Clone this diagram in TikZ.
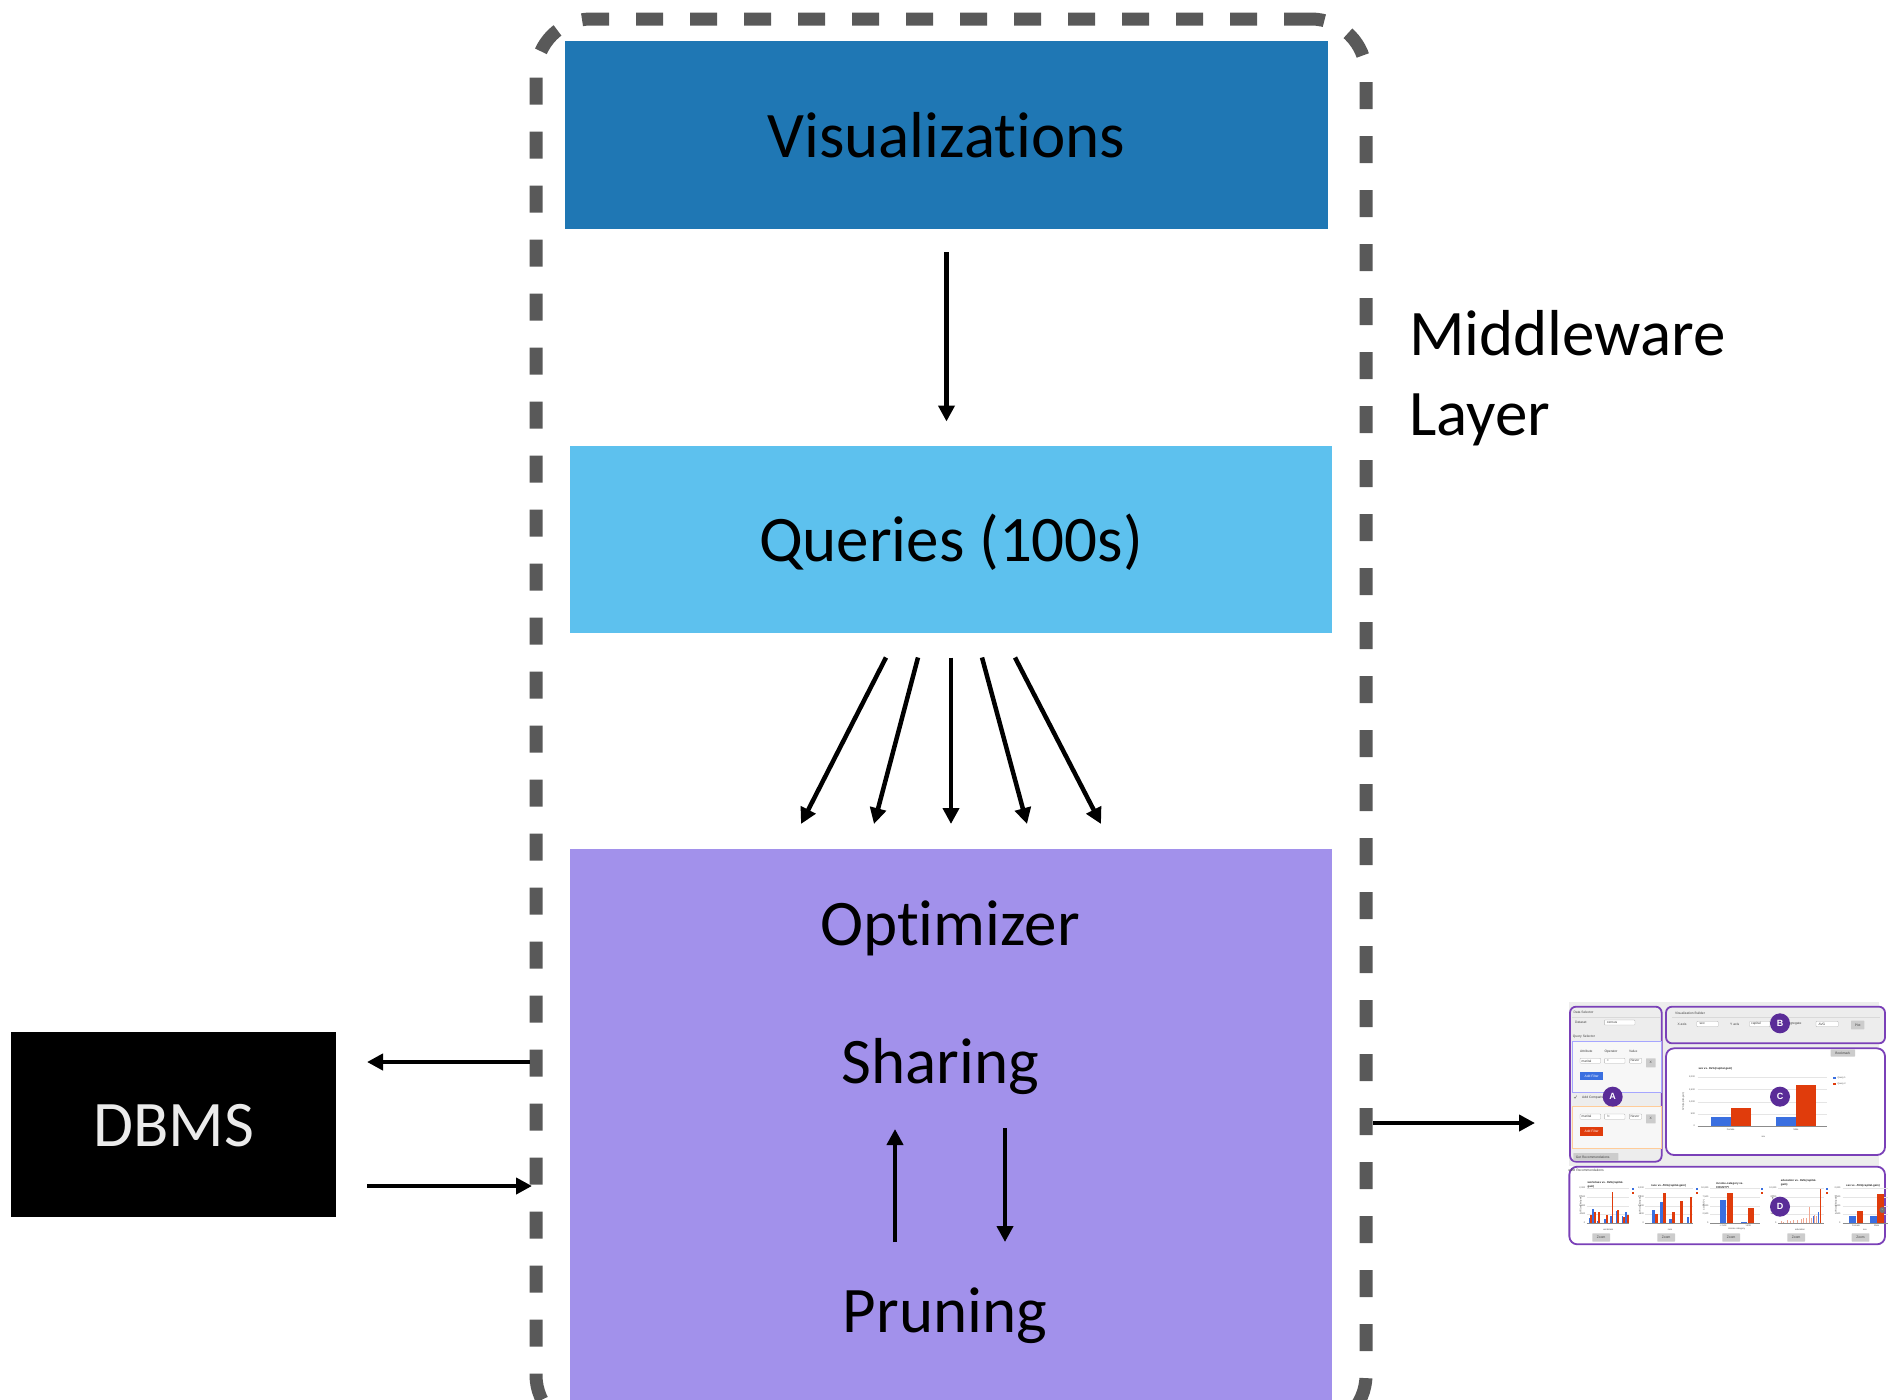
\documentclass[tikz,border=0pt]{standalone}
\usepackage{fontspec}
\setmainfont{Carlito}[Ligatures={NoCommon,NoContextual}]
\newfontfamily\shotfont{Liberation Sans}
\usetikzlibrary{arrows.meta,calc}
\definecolor{visblue}{HTML}{1F77B4}
\definecolor{qblue}{HTML}{5DC1EE}
\definecolor{optpurple}{HTML}{A291EB}
\definecolor{dashgray}{HTML}{595959}
\definecolor{pborder}{HTML}{7A40B8}
\definecolor{pcirc}{HTML}{5A2C98}
\definecolor{barblue}{HTML}{3A6FE0}
\definecolor{barred}{HTML}{E03C0C}
\definecolor{shotbg}{HTML}{EDEDED}
\definecolor{dbmstext}{HTML}{EBEBEB}
\newcommand\shotaxis[8]{%
  \foreach \yy in {580,606,632,657}{\draw[black!10, line width=0.2pt] (#2,\yy) -- (#3,\yy);}
  \draw[black!45, line width=0.3pt] (#2,683) -- (#3,683);
  \node[sts, anchor=east] at (#1,580) {#4};
  \node[sts, anchor=east] at (#1,606) {#5};
  \node[sts, anchor=east] at (#1,632) {#6};
  \node[sts, anchor=east] at (#1,657) {#7};
  \node[sts, anchor=east] at (#1,683) {#8};}
\newcommand\shotbar[4]{\fill[#4] (#1,#2) rectangle (#1+#3,683);}
\begin{document}
\begin{tikzpicture}[x=1pt,y=-1pt,
  bigtext/.style={font=\fontsize{65}{70}\selectfont},
  layerbox/.style={rectangle, inner sep=0pt, outer sep=0pt, text height=44pt, text depth=0pt, bigtext},
  arr/.style={-{Triangle[length=16pt,width=16pt]}, line width=4.5pt},
  st/.style={font=\shotfont\fontsize{3.3}{3.8}\selectfont, inner sep=0pt, anchor=west, text=black!75},
  sts/.style={font=\shotfont\fontsize{2.3}{2.7}\selectfont, inner sep=0pt, text=black!70},
  stb/.style={font=\shotfont\bfseries\fontsize{2.8}{3.2}\selectfont, inner sep=0pt, anchor=west, text=black!85},
  dd/.style={draw=black!30, fill=white, rounded corners=0.8pt, line width=0.3pt},
  btn/.style={fill=black!20, rounded corners=0.5pt},
  panel/.style={draw=pborder, line width=1.8pt, rounded corners=6pt},
  letter/.style={font=\shotfont\bfseries\fontsize{9}{10}\selectfont, text=white, inner sep=0pt},
]
\useasboundingbox (0,0) rectangle (1888,1400);
\clip (0,0) rectangle (1888,1400);

% layer boxes
\node[layerbox, fill=visblue, minimum width=763pt, minimum height=188pt] (vis) at (946.5,135) {Visualizations};
\node[layerbox, fill=qblue, minimum width=762pt, minimum height=187pt] (qry) at (951,539) {Queries (100s)};
\node[rectangle, inner sep=0pt, outer sep=0pt, fill=optpurple, minimum width=762pt, minimum height=600pt, anchor=north] (opt) at (951,849) {};
\node[bigtext, anchor=base, inner sep=0pt] (optt) at (950,945) {Optimizer};
\node[bigtext, anchor=base, inner sep=0pt] (shr) at (940.5,1083) {Sharing};
\node[bigtext, anchor=base, inner sep=0pt] (prn) at (945,1332) {Pruning};
\node[layerbox, fill=black, text=dbmstext, minimum width=325pt, minimum height=185pt] (dbms) at (173.5,1124.5) {DBMS};

% middleware label
\node[bigtext, anchor=base west, inner sep=0pt] (mid1) at (1409,355) {Middleware};
\node[bigtext, anchor=base west, inner sep=0pt] (mid2) at (1409,435) {Layer};

% middleware dashed frame
\node[draw=dashgray, line width=13pt, dash pattern=on 27pt off 27pt, rounded corners=55pt,
      minimum width=830pt, minimum height=1411pt, inner sep=0pt, outer sep=0pt] (mw) at (951,724.5) {};

% screenshot anchor node
\node[inner sep=0pt, outer sep=0pt, minimum width=320pt, minimum height=243pt] (shot) at (1728,1124.5) {};

% arrows
\draw[arr, shorten <=23pt, shorten >=24pt] (vis.south) -- (vis.south |- qry.north);
\draw[arr] ([xshift=-65pt,yshift=-25pt]qry.south) -- ([xshift=-150pt,yshift=25pt]opt.north);
\draw[arr] ([xshift=-33pt,yshift=-25pt]qry.south) -- ([xshift=-77pt,yshift=25pt]opt.north);
\draw[arr] ([xshift=0pt,yshift=-25pt]qry.south) -- ([xshift=0pt,yshift=25pt]opt.north);
\draw[arr] ([xshift=31pt,yshift=-25pt]qry.south) -- ([xshift=76pt,yshift=25pt]opt.north);
\draw[arr] ([xshift=64pt,yshift=-25pt]qry.south) -- ([xshift=150pt,yshift=25pt]opt.north);
\draw[arr] ([xshift=-56pt,yshift=-393pt]opt.north) -- ([xshift=-56pt,yshift=-280pt]opt.north);
\draw[arr] ([xshift=54pt,yshift=-279pt]opt.north) -- ([xshift=54pt,yshift=-393pt]opt.north);
\draw[arr] ([xshift=-6pt,yshift=-337.5pt]mw.west) -- ([xshift=31pt,yshift=62.5pt]dbms.east);
\draw[arr] ([xshift=31pt,yshift=-61.5pt]dbms.east) -- ([xshift=-4pt,yshift=-461.5pt]mw.west);
\draw[arr] ([xshift=7pt,yshift=-398.5pt]mw.east) -- ([xshift=-33pt,yshift=1.5pt]shot.west);

% screenshot thumbnail
\begin{scope}[xshift=1560pt,yshift=-995pt,x=0.33333pt,y=-0.33333pt]
\clip (25,15) rectangle (984,760);
\fill[shotbg] (28,22) rectangle (958,512);
% Panel A
\draw[panel, fill=shotbg] (30,35) rectangle (305,500);
\node[st] at (40,53) {Data Selector};
\draw[black!15, line width=0.3pt] (36,66) -- (300,66);
\node[st] at (45,82) {Dataset};
\draw[dd] (133,75) rectangle (225,90); \node[st] at (140,82.5) {census};
\node[st] at (38,125) {Query Selector};
\draw[draw=blue!35, line width=0.5pt, fill=black!3] (38,140) rectangle (303,292);
\node[st] at (60,170) {Attribute}; \node[st] at (133,170) {Operator}; \node[st] at (207,170) {Value};
\draw[dd] (60,190) rectangle (122,205); \node[st] at (64,197.5) {marital};
\draw[dd] (133,190) rectangle (195,205); \node[st] at (140,197.5) {=};
\draw[dd] (208,190) rectangle (245,205); \node[st] at (211,197.5) {Never};
\fill[btn] (258,190) rectangle (287,217); \node[st, anchor=center] at (272.5,203.5) {X};
\fill[barblue] (60,230) rectangle (130,255); \node[st, anchor=center, text=white] at (95,242.5) {Add Filter};
\draw[black!60, line width=0.4pt] (42,306) -- (45,310) -- (50,302);
\node[st] at (66,307) {Add Comparison};
\draw[draw=orange!40, line width=0.5pt, fill=black!3] (38,335) rectangle (303,460);
\draw[dd] (60,357) rectangle (122,373); \node[st] at (64,365) {marital};
\draw[dd] (133,357) rectangle (195,373); \node[st] at (140,365) {!=};
\draw[dd] (208,357) rectangle (245,373); \node[st] at (211,365) {Never};
\fill[btn] (258,358) rectangle (287,385); \node[st, anchor=center] at (272.5,371.5) {X};
\fill[barred] (60,397) rectangle (130,422); \node[st, anchor=center, text=white] at (95,409.5) {Add Filter};
\fill[btn] (40,474) rectangle (175,497); \node[st] at (47,485.5) {Get Recommendations};
\fill[pcirc] (158,305) circle[radius=30]; \node[letter] at (158,305) {A};
% Panel B
\draw[panel, fill=shotbg] (318,35) rectangle (975,145);
\node[st] at (345,55) {Visualization Builder};
\draw[black!15, line width=0.3pt] (335,67) -- (960,67);
\node[st] at (352,87) {X axis};
\draw[dd] (410,79) rectangle (475,95); \node[st] at (418,87) {sex};
\node[st] at (510,87) {Y axis};
\draw[dd] (568,79) rectangle (630,95); \node[st] at (573,87) {capital};
\node[st] at (678,87) {Aggregate};
\draw[dd] (768,79) rectangle (835,95); \node[st] at (775,87) {AVG};
\fill[btn] (873,77) rectangle (913,103); \node[st, anchor=center] at (893,90) {Plot};
\fill[pcirc] (660,85) circle[radius=30]; \node[letter] at (660,85) {B};
% Panel C
\draw[panel, fill=white, rounded corners=8pt] (318,160) rectangle (975,480);
\fill[btn] (812,163) rectangle (885,185); \node[st, anchor=center] at (848.5,174) {Bookmark};
\node[stb] at (415,222) {sex vs. AVG(capital-gain)};
\foreach \yy/\lab in {245/{2,000},283/{1,500},320/{1,000},357/{500},393/{0}}{
  \draw[black!10, line width=0.2pt] (413,\yy) -- (800,\yy);
  \node[sts, anchor=east] at (405,\yy) {\lab};}
\draw[black!45, line width=0.3pt] (413,393) -- (800,393);
\fill[barblue] (453,365) rectangle (512,393);
\fill[barred] (514,338) rectangle (573,393);
\fill[barblue] (648,367) rectangle (707,393);
\fill[barred] (709,270) rectangle (768,393);
\node[sts] at (512,405) {Female};
\node[sts] at (708,405) {Male};
\node[sts] at (610,425) {sex};
\node[sts, rotate=90] at (370,320) {AVG(capital-gain)};
\fill[barblue] (818,245) rectangle (827,253); \node[sts, anchor=west] at (832,249) {Query 1};
\fill[barred] (818,263) rectangle (827,271); \node[sts, anchor=west] at (832,267) {Query 2};
\fill[pcirc] (660,305) circle[radius=30]; \node[letter] at (660,305) {C};
% Panel D
\draw[panel, fill=white, rounded corners=8pt] (28,515) rectangle (975,748);
\node[st] at (14,527) {SeeDB Recommendations};
% chart 1
\node[stb] at (82,562) {workclass vs. AVG(capital-};
\node[stb] at (82,574) {gain)};
\shotaxis{76}{80}{207}{2,000}{1,500}{1,000}{500}{0}
\shotbar{86}{668}{5}{barblue}\shotbar{91}{660}{5}{barred}
\shotbar{97}{642}{5}{barblue}\shotbar{102}{650}{5}{barred}
\shotbar{110}{678}{5}{barblue}\shotbar{115}{652}{5}{barred}
\shotbar{133}{672}{5}{barblue}\shotbar{138}{660}{5}{barred}
\shotbar{150}{662}{5}{barblue}\shotbar{155}{592}{5}{barred}
\shotbar{167}{648}{5}{barblue}\shotbar{172}{645}{5}{barred}
\shotbar{185}{662}{5}{barblue}\shotbar{190}{665}{5}{barred}
\shotbar{196}{650}{5}{barblue}\shotbar{201}{660}{5}{barred}
\fill[barblue] (215,578) rectangle (221,584); \fill[barred] (215,592) rectangle (221,598);
\node[sts, rotate=90] at (62,630) {AVG(capital-gain)};
\node[sts] at (145,704) {workclass};
\fill[btn] (97,715) rectangle (150,740); \node[st, anchor=center] at (123.5,727.5) {Zoom};
% chart 2
\node[stb] at (273,572) {race vs. AVG(capital-gain)};
\shotaxis{252}{256}{400}{2,000}{1,500}{1,000}{500}{0}
\shotbar{276}{645}{8}{barblue}\shotbar{285}{657}{8}{barred}
\shotbar{300}{622}{8}{barblue}\shotbar{309}{595}{8}{barred}
\shotbar{328}{673}{8}{barblue}\shotbar{337}{650}{8}{barred}
\shotbar{360}{618}{8}{barred}
\shotbar{380}{665}{8}{barblue}\shotbar{389}{605}{8}{barred}
\fill[barblue] (408,578) rectangle (414,584); \fill[barred] (408,592) rectangle (414,598);
\node[sts, rotate=90] at (240,630) {AVG(capital-gain)};
\node[sts] at (330,704) {race};
\fill[btn] (292,715) rectangle (345,740); \node[st, anchor=center] at (318.5,727.5) {Zoom};
% chart 3
\node[stb] at (468,565) {income-category vs.};
\node[stb] at (468,577) {COUNT(*)};
\shotaxis{446}{450}{600}{10,000}{7,500}{5,000}{2,500}{0}
\shotbar{480}{614}{18}{barblue}\shotbar{500}{595}{18}{barred}
\shotbar{543}{680}{18}{barblue}\shotbar{563}{640}{18}{barred}
\node[sts] at (490,692) {<=50K};
\node[sts] at (565,692) {>50K};
\node[sts] at (530,703) {income category};
\fill[barblue] (603,578) rectangle (609,584); \fill[barred] (603,592) rectangle (609,598);
\node[sts, rotate=90] at (432,630) {COUNT(*)};
\fill[btn] (487,715) rectangle (540,740); \node[st, anchor=center] at (513.5,727.5) {Zoom};
% chart 4
\node[stb] at (662,557) {education vs. AVG(capital-};
\node[stb] at (662,569) {gain)};
\shotaxis{650}{655}{792}{12,000}{9,000}{6,000}{3,000}{0}
\foreach \bx/\by in {662/678,670/680,680/676,690/679,700/674,712/676,722/672,730/668,738/670,746/637,752/668,763/660,769/664}{
  \shotbar{\bx}{\by}{3}{barred!45}}
\shotbar{758}{664}{3}{barblue}\shotbar{775}{650}{3}{barblue}\shotbar{779}{583}{3}{barred}
\fill[barblue] (798,578) rectangle (804,584); \fill[barred] (798,592) rectangle (804,598);
\node[sts, rotate=90] at (638,630) {AVG(capital-gain)};
\node[sts] at (720,704) {education};
\fill[btn] (682,715) rectangle (735,740); \node[st, anchor=center] at (708.5,727.5) {Zoom};
\fill[pcirc] (660,635) circle[radius=30]; \node[letter] at (660,635) {D};
% chart 5
\node[stb] at (858,572) {sex vs. AVG(capital-gain)};
\shotaxis{842}{848}{984}{2,000}{1,500}{1,000}{500}{0}
\shotbar{868}{662}{20}{barblue}\shotbar{890}{648}{20}{barred}
\shotbar{930}{663}{20}{barblue}\shotbar{952}{598}{20}{barred}
\node[sts] at (888,692) {Female};
\node[sts] at (950,692) {Male};
\node[sts] at (915,704) {sex};
\node[sts, rotate=90] at (828,630) {AVG(capital-gain)};
\fill[btn] (875,715) rectangle (928,740); \node[st, anchor=center] at (901.5,727.5) {Zoom};
\fill[black!55] (967,645) circle[radius=9]; \node[sts, text=white] at (967,645) {>};
\end{scope}
\end{tikzpicture}
\end{document}
